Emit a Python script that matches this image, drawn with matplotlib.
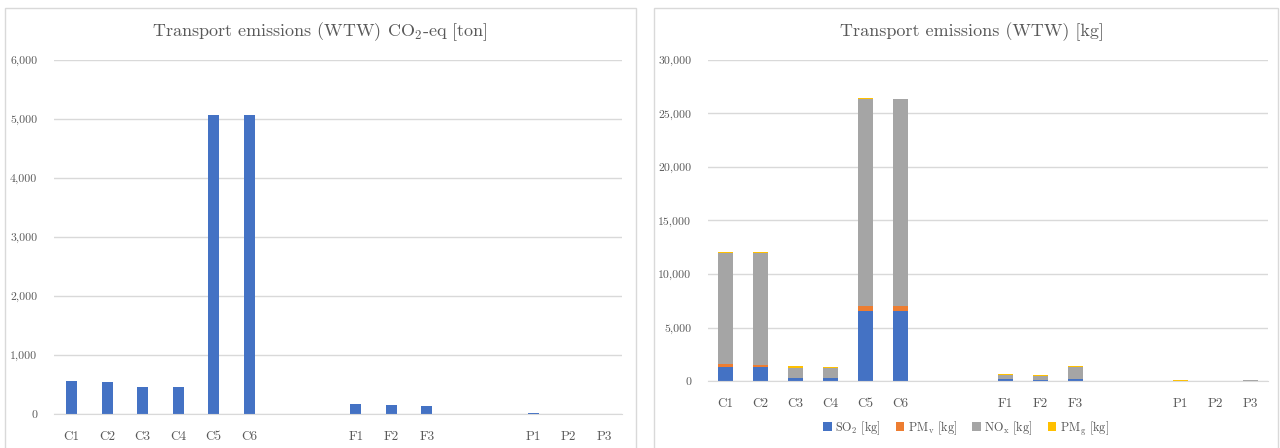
import matplotlib.pyplot as plt
from matplotlib.patches import Rectangle
from matplotlib.ticker import FuncFormatter
import numpy as np

plt.rcParams['font.family'] = ['cmr10', 'DejaVu Serif']
plt.rcParams['mathtext.fontset'] = 'cm'
plt.rcParams['axes.formatter.use_mathtext'] = True

# categories (blank slots are the empty gaps in the original sheet)
labels = ['C1', 'C2', 'C3', 'C4', 'C5', 'C6', '', '',
          'F1', 'F2', 'F3', '', '', 'P1', 'P2', 'P3']

# left chart: CO2-eq [ton]
co2 = [554, 537, 458, 452, 5073, 5067, 0, 0, 170, 153, 136, 0, 0, 17, 5, 5]

# right chart: stacked emissions [kg]
so2 = [1340, 1280, 250, 250, 6580, 6580, 0, 0, 150, 120, 190, 0, 0, 5, 3, 20]
pmv = [220, 250, 50, 50, 470, 470, 0, 0, 30, 20, 30, 0, 0, 5, 3, 20]
nox = [10440, 10440, 950, 920, 19330, 19270, 0, 0, 380, 360, 1060, 0, 0, 10, 10, 40]
pmg = [60, 60, 150, 120, 90, 80, 0, 0, 120, 60, 90, 0, 0, 60, 10, 40]

text_col = '#595959'
grid_col = '#D9D9D9'
colors = ['#4472C4', '#ED7D31', '#A5A5A5', '#FFC000']

W, H = 1280, 448
fig = plt.figure(figsize=(W / 100, H / 100), dpi=100)

def px_axes(x0, x1, ytop, ybot):
    return fig.add_axes([x0 / W, (H - ybot) / H, (x1 - x0) / W, (ybot - ytop) / H])

# chart frames
for x0, x1 in [(5, 636), (654, 1278)]:
    fig.patches.append(Rectangle((x0 / W, -0.01), (x1 - x0) / W, (H - 8) / H + 0.01,
                                 transform=fig.transFigure, fill=False,
                                 edgecolor=grid_col, linewidth=1))

fmt = FuncFormatter(lambda v, p: f'{int(v):,}')
x = np.arange(len(labels))

def style(ax, ymax, step):
    ax.set_xlim(-0.5, len(labels) - 0.5)
    ax.set_ylim(0, ymax)
    ax.set_yticks(np.arange(0, ymax + 1, step))
    ax.yaxis.set_major_formatter(fmt)
    ax.set_xticks(x)
    ax.set_xticklabels(labels)
    ax.grid(axis='y', color=grid_col, linewidth=1)
    ax.set_axisbelow(True)
    for s in ['top', 'right', 'left']:
        ax.spines[s].set_visible(False)
    ax.spines['bottom'].set_color(grid_col)
    ax.tick_params(length=0, colors=text_col)
    ax.tick_params(axis='y', labelsize=8.5, pad=12)
    ax.tick_params(axis='x', labelsize=9.5, pad=12)

# left
ax1 = px_axes(54, 622, 60, 414)
ax1.bar(x, co2, width=0.31, color=colors[0])
style(ax1, 6000, 1000)
fig.text(320 / W, (H - 32) / H, r'Transport emissions (WTW) CO$_\mathrm{2}$-eq [ton]',
         ha='center', va='center', fontsize=13, color=text_col)

# right
ax2 = px_axes(708, 1268, 60, 381)
bottom = np.zeros(len(labels))
names = [r'SO$_\mathrm{2}$ [kg]', r'PM$_\mathrm{v}$ [kg]',
         r'NO$_\mathrm{x}$ [kg]', r'PM$_\mathrm{g}$ [kg]']
for vals, c, n in zip([so2, pmv, nox, pmg], colors, names):
    ax2.bar(x, vals, width=0.45, bottom=bottom, color=c, label=n)
    bottom += np.array(vals)
style(ax2, 30000, 5000)
fig.text(972 / W, (H - 32) / H, 'Transport emissions (WTW) [kg]',
         ha='center', va='center', fontsize=13, color=text_col)
leg = fig.legend(*ax2.get_legend_handles_labels(), loc='center',
                 bbox_to_anchor=(966 / W, (H - 428) / H), ncol=4, frameon=False,
                 fontsize=8.8, handlelength=0.7, handleheight=0.7,
                 handletextpad=0.3, columnspacing=1.2)
for t in leg.get_texts():
    t.set_color(text_col)

fig.savefig('out.png', dpi=100)
